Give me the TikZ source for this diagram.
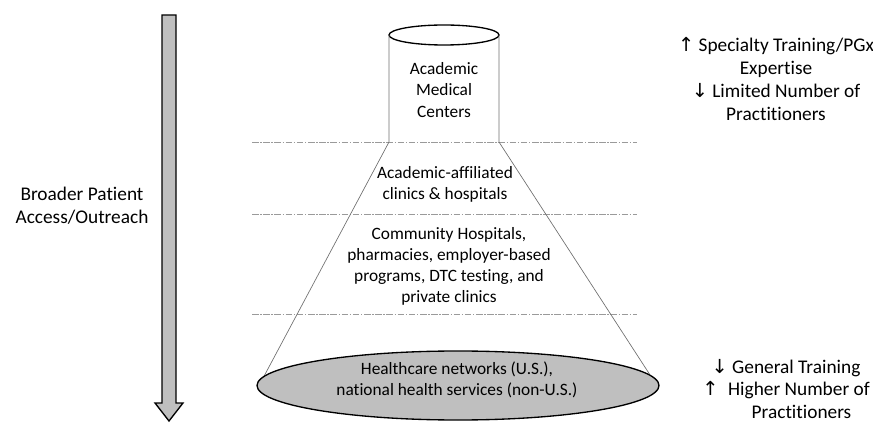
\documentclass[tikz,border=0pt]{standalone}
\usepackage{fontspec}
\setmainfont{Carlito}[Ligatures=CommonOff]
\newfontfamily\arrowfont{DejaVu Sans}
\usetikzlibrary{shapes.geometric,positioning}

\definecolor{shade}{HTML}{BFBFBF}
\definecolor{rim}{HTML}{6E6E6E}
\definecolor{tier}{HTML}{9A9A9A}
\newcommand{\uparr}{{\arrowfont\char"2191}}
\newcommand{\dnarr}{{\arrowfont\char"2193}}

\begin{document}
\begin{tikzpicture}[
        x=0.75pt, y=-0.75pt,
        layer/.style={
            align=center,
            font=\fontsize{13}{15.8}\selectfont
        },
        side/.style={
            align=center,
            inner sep=1pt,
            font=\fontsize{14.5}{17.2}\selectfont
        },
        wall/.style={
            draw=rim,
            line width=0.5pt
        },
        tierline/.style={
            draw=tier,
            line width=0.5pt,
            dash pattern=on 5pt off 1.2pt on 1pt off 1.2pt
        },
        lid/.style={
            ellipse,
            draw,
            line width=1pt,
            inner sep=0pt,
            outer sep=0pt
        },
        bigarrow/.style={
            draw,
            fill=shade,
            line width=1pt,
            line join=miter
        }
    ]
    \useasboundingbox (0,0) rectangle (873,423);
    % Access arrow on the left
    \draw[bigarrow] (162,15) -- (176,15) -- (176,403) -- (183,403)
        -- (169,421) -- (155,403) -- (162,403) -- cycle;
    \node[side] (access) at (82,206) {Broader Patient\\Access/Outreach};
    % Tier separators
    \foreach \y in {142,214,314}
        \draw[tierline] (252,\y) -- (637,\y);
    % Cylinder on top of the cone
    \node[lid, minimum width=82.5pt, minimum height=15pt] (amc_top) at (444,35) {};
    \draw[wall] (amc_top.west) -- (389,142) -- (262,380);
    \draw[wall] (amc_top.east) -- (499,142) -- (652,378);
    % Base of the cone
    \node[lid, fill=shade, minimum width=301.5pt, minimum height=51.75pt] (base) at (458,385.5) {};
    % Tier labels
    \node[layer] (amc) at (444,90) {Academic\\Medical\\Centers};
    \node[layer] (affiliated) at (445,184) {Academic-affiliated\\clinics \& hospitals};
    \node[layer] (community) at (449,266) {Community Hospitals,\\pharmacies, employer-based\\programs, DTC testing, and\\private clinics};
    \node[layer] (networks) at (457,380) {Healthcare networks (U.S.),\\national health services (non-U.S.)};
    % Training notes on the right
    \node[side] (specialty) at (776,79) {\uparr{} Specialty Training/PGx\\Expertise\\\dnarr{} Limited Number of\\Practitioners};
    \node[side] (general) at (786,389) {\dnarr{} General Training\\\uparr{}\enspace Higher Number of\\\hspace*{1.6em}Practitioners};
\end{tikzpicture}
\end{document}
